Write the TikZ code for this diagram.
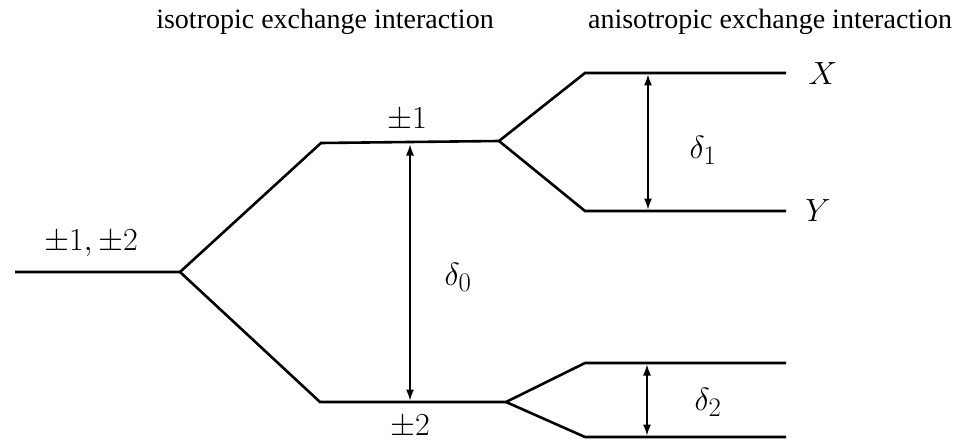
\documentclass[tikz,border=0pt]{standalone}
\usepackage{fontspec}
\setmainfont{Liberation Serif}
\usetikzlibrary{arrows.meta}
\begin{document}
\begin{tikzpicture}[x=1pt,y=-1pt,
  level/.style={line width=2.6pt,line join=miter},
  gap/.style={line width=1.4pt,{Latex[length=11pt,width=8pt]}-{Latex[length=11pt,width=8pt]}},
  title/.style={font=\fontsize{28}{32}\selectfont},
  lab/.style={font=\fontsize{24.88}{28}\selectfont,scale=1.29}]
\useasboundingbox (0,0) rectangle (963,441);
% coordinates
\coordinate (L0) at (15,272);
\coordinate (S0) at (180,272);
\coordinate (UA) at (321,143);
\coordinate (UB) at (499,141);
\coordinate (DA) at (320,402);
\coordinate (DB) at (506,402);
\coordinate (XA) at (585,73);
\coordinate (XB) at (786,73);
\coordinate (YA) at (585,211);
\coordinate (YB) at (786,211);
\coordinate (PA) at (585,363);
\coordinate (PB) at (786,363);
\coordinate (QA) at (585,437);
\coordinate (QB) at (786,437);
% levels
\draw[level] (L0) -- (S0) -- (UA) -- (UB) -- (XA) -- (XB);
\draw[level] (S0) -- (DA) -- (DB) -- (PA) -- (PB);
\draw[level] (UB) -- (YA) -- (YB);
\draw[level] (DB) -- (QA) -- (QB);
% arrows
\coordinate (d0t) at (410,144.5);
\coordinate (d0b) at (410,400.5);
\coordinate (d1t) at (648,74.5);
\coordinate (d1b) at (648,209.5);
\coordinate (d2t) at (647,364.5);
\coordinate (d2b) at (647,435.5);
\draw[gap] (d0t) -- (d0b);
\draw[gap] (d1t) -- (d1b);
\draw[gap] (d2t) -- (d2b);
% labels
\node[lab] (l12) at (91,243) {$\pm1,\pm2$};
\node[lab] (l1) at (407,119) {$\pm1$};
\node[lab] (l2) at (410,426) {$\pm2$};
\node[lab] (dl0) at (458,277) {$\delta_0$};
\node[lab] (dl1) at (703,150) {$\delta_1$};
\node[lab] (dl2) at (708,402) {$\delta_2$};
\node[lab] (lx) at (823,74) {$X$};
\node[lab] (ly) at (818,211) {$Y$};
\node[title] (t1) at (325,22) {isotropic exchange interaction};
\node[title] (t2) at (770,22) {anisotropic exchange interaction};
\end{tikzpicture}
\end{document}
